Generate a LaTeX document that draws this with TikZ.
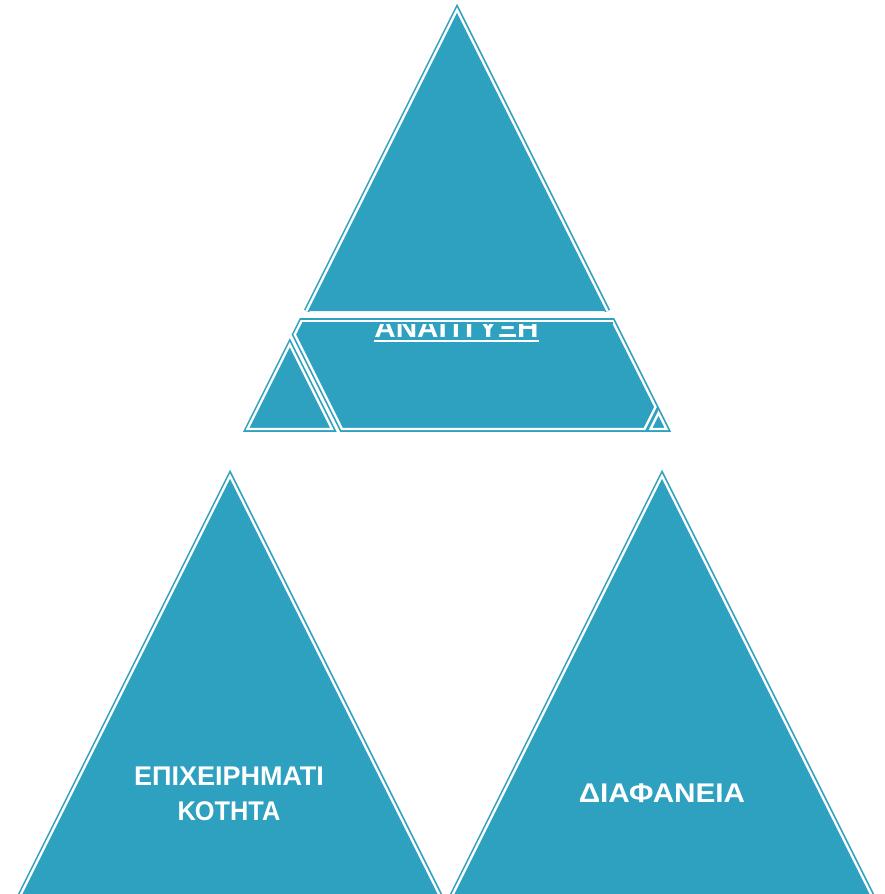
\documentclass[tikz,border=0pt]{standalone}
\usepackage{fontspec}
\setmainfont{Liberation Sans}
\definecolor{tealfill}{RGB}{45,161,191}
\begin{document}
\begin{tikzpicture}[x=1pt,y=-1pt,
  piece/.style={fill=tealfill, draw=tealfill, line width=1.6pt, double=white, double distance=2.4pt, miter limit=25},
  edge/.style={draw=tealfill, line width=1.6pt, double=white, double distance=2.4pt, miter limit=25},
  lbl/.style={text=white, font=\bfseries\fontsize{27}{35}\selectfont, inner sep=0pt, align=center}]
\useasboundingbox (0,0) rectangle (884,894);
\clip (0,0) rectangle (884,894);
% top triangle: upper piece
\fill[tealfill] (306.5,311) -- (457,10) -- (607.5,311) -- cycle;
\draw[edge] (306.5,311) -- (457,10) -- (607.5,311);
% middle piece
\path[piece] (301.5,321) -- (612.5,321) -- (655.5,407) -- (644.5,429) -- (342,429) -- (294.75,334.5) -- cycle;
% small left piece
\path[piece] (289.75,344.5) -- (332,429) -- (247.5,429) -- cycle;
% small right piece
\path[piece] (658.5,413) -- (666.5,429) -- (650.5,429) -- cycle;
% label of top triangle
\node[lbl, anchor=base] (t) at (456.5,337) {\scalebox{1.1}[1]{ΑΝΑΠΤΥΞΗ}};
\draw[white, line width=2pt] ([yshift=-3.5pt]t.base west) -- ([yshift=-3.5pt]t.base east);
\draw[edge] (301.5,321) -- (612.5,321);
% bottom triangles
\path[piece] (230,476) -- (467,950) -- (-7,950) -- cycle;
\path[piece] (662,476) -- (899,950) -- (425,950) -- cycle;
\node[lbl, anchor=base] (e) at (229,820) {ΕΠΙΧΕΙΡΗΜΑΤΙ\\\scalebox{0.94}[1]{ΚΟΤΗΤΑ}};
\node[lbl, anchor=base] (d) at (662,802) {\scalebox{1.1}[1]{ΔΙΑΦΑΝΕΙΑ}};
\end{tikzpicture}
\end{document}
